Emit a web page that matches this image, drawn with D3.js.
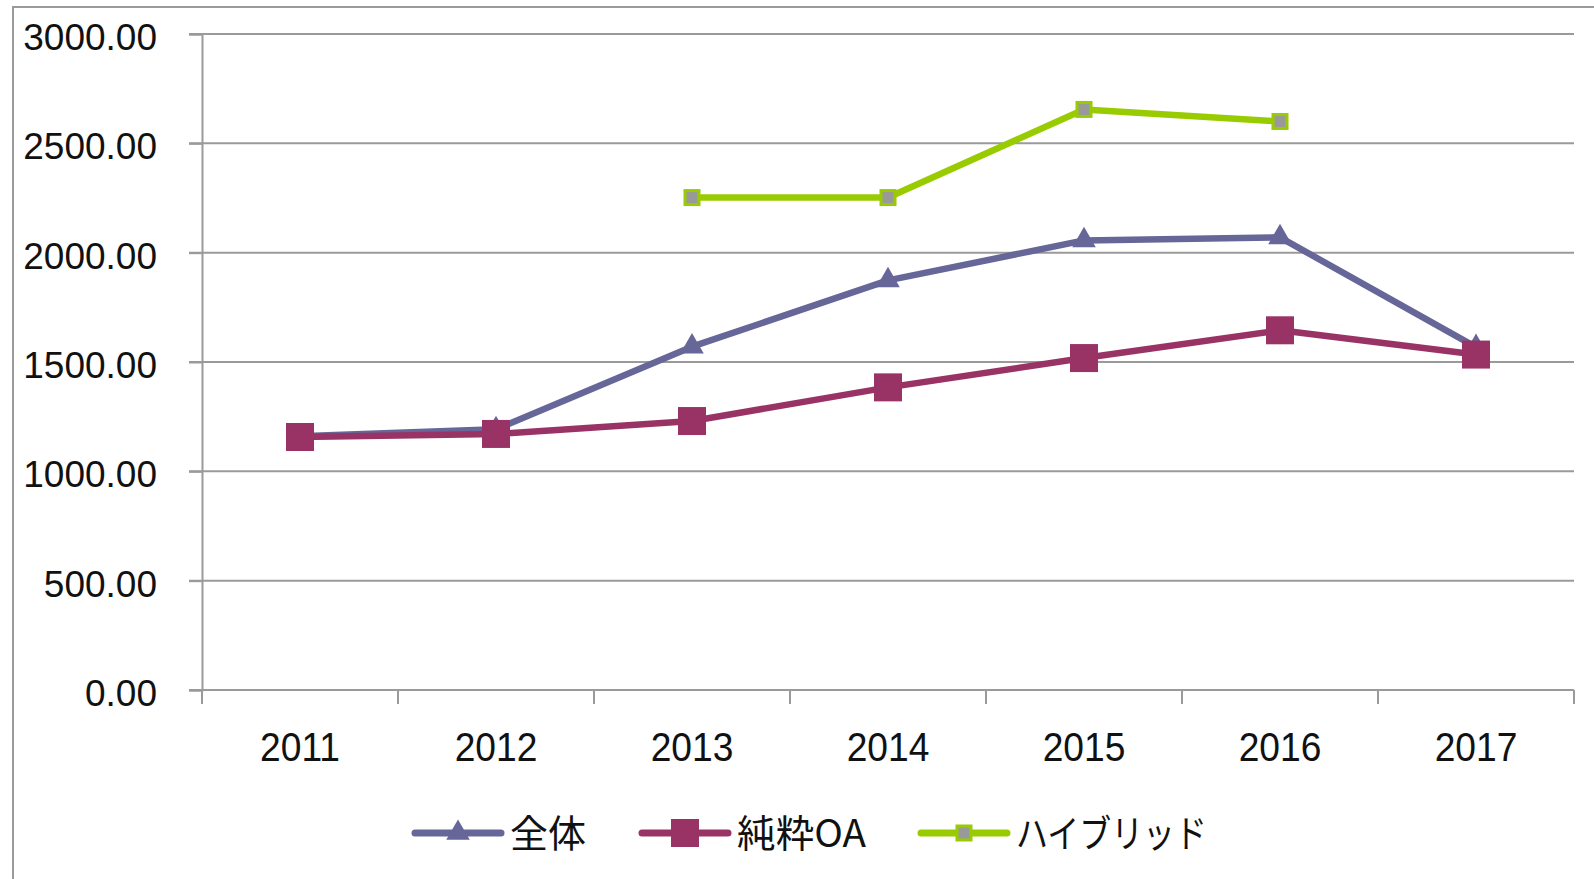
<!DOCTYPE html>
<html>
<head>
<meta charset="utf-8">
<script src="https://cdn.jsdelivr.net/npm/d3@7"></script>
<style>
  body { margin: 0; background: #fff; }
  svg { display: block; }
  text { font-family: "Liberation Sans", Arial, sans-serif; fill: #111; }
  .legend text { font-family: "Noto Sans CJK JP", "Liberation Sans", sans-serif; }
</style>
</head>
<body>
<svg width="1594" height="879"></svg>
<script>
// data
var years = ["2011", "2012", "2013", "2014", "2015", "2016", "2017"];
var zentai = [1160, 1192, 1570, 1873, 2056, 2070, 1568];
var junsuiOA = [1157, 1171, 1230, 1384, 1518, 1645, 1534];
var hybrid = [null, null, 2252, 2252, 2655, 2600, null];
var seriesNames = ["全体", "純粋OA", "ハイブリッド"];
var yTicks = [0, 500, 1000, 1500, 2000, 2500, 3000];

var svg = d3.select("svg");
var width = 1594, height = 879;

var plot = {left: 202, right: 1574, top: 34, bottom: 690};

var x = d3.scaleBand().domain(years).range([plot.left, plot.right]);
var y = d3.scaleLinear().domain([0, 3000]).range([plot.bottom, plot.top]);
var cx = function(d) { return x(d) + x.bandwidth() / 2; };

// outer frame
svg.append("rect")
    .attr("x", 13).attr("y", 7)
    .attr("width", 1700).attr("height", 1000)
    .attr("fill", "none")
    .attr("stroke", "#9a9a9a")
    .attr("stroke-width", 2);

// gridlines
svg.append("g")
    .selectAll("line")
    .data(yTicks)
    .enter().append("line")
        .attr("x1", plot.left - 13)
        .attr("x2", plot.right)
        .attr("y1", function(d) { return y(d); })
        .attr("y2", function(d) { return y(d); })
        .attr("stroke", "#9a9a9a")
        .attr("stroke-width", 2);

// y axis
var yAxis = svg.append("g")
    .attr("transform", "translate(" + plot.left + ",0)")
    .call(d3.axisLeft(y).tickValues(yTicks).tickFormat(d3.format(".2f")).tickSize(13).tickPadding(32));
yAxis.select(".domain").attr("stroke", "#9a9a9a").attr("stroke-width", 2);
yAxis.selectAll(".tick line").attr("stroke", "#9a9a9a").attr("stroke-width", 2);
yAxis.selectAll(".tick text")
    .attr("font-size", 37)
    .attr("font-family", "Liberation Sans, Arial, sans-serif")
    .attr("fill", "#111")
    .attr("dy", "0.42em");

// x axis: labels at band centres, ticks at band boundaries
var xAxis = svg.append("g")
    .attr("transform", "translate(0," + plot.bottom + ")")
    .call(d3.axisBottom(x).tickSize(0).tickPadding(0));
xAxis.select(".domain").remove();
xAxis.selectAll(".tick text")
    .attr("font-size", 40)
    .attr("font-family", "Liberation Sans, Arial, sans-serif")
    .attr("fill", "#111")
    .attr("y", 0)
    .attr("dy", 0)
    .attr("transform", "translate(0,71) scale(0.93,1)");

var bounds = years.map(function(d) { return x(d); }).concat([plot.right]);
svg.append("g")
    .selectAll("line")
    .data(bounds)
    .enter().append("line")
        .attr("x1", function(d) { return d; })
        .attr("x2", function(d) { return d; })
        .attr("y1", plot.bottom)
        .attr("y2", plot.bottom + 14)
        .attr("stroke", "#9a9a9a")
        .attr("stroke-width", 2);

// series
var colors = ["#666699", "#993366", "#99cc00"];
var series = [zentai, junsuiOA, hybrid];

var line = d3.line()
    .defined(function(d) { return d[1] != null; })
    .x(function(d) { return cx(d[0]); })
    .y(function(d) { return y(d[1]); });

var triangle = d3.symbol().type(d3.symbolTriangle).size(240);

function drawMarker(g, i, px, py) {
    if (i === 0) {
        g.append("path")
            .attr("d", triangle())
            .attr("transform", "translate(" + px + "," + py + ")")
            .attr("fill", colors[0]);
    } else if (i === 1) {
        g.append("rect")
            .attr("x", px - 14).attr("y", py - 14)
            .attr("width", 28).attr("height", 28)
            .attr("fill", colors[1]);
    } else {
        g.append("rect")
            .attr("x", px - 7).attr("y", py - 7)
            .attr("width", 14).attr("height", 14)
            .attr("fill", "#999999")
            .attr("stroke", colors[2])
            .attr("stroke-width", 3);
    }
}

series.forEach(function(vals, i) {
    var pts = years.map(function(yr, j) { return [yr, vals[j]]; });
    var g = svg.append("g");
    g.append("path")
        .datum(pts)
        .attr("d", line)
        .attr("fill", "none")
        .attr("stroke", colors[i])
        .attr("stroke-width", 6.5)
        .attr("stroke-linejoin", "round");
    pts.filter(function(d) { return d[1] != null; }).forEach(function(d) {
        drawMarker(g, i, cx(d[0]), y(d[1]));
    });
});

// legend
var legendX = [415, 642, 921];
var legendTextW = [76, 129, 191];
var legend = svg.append("g").attr("class", "legend");
seriesNames.forEach(function(name, i) {
    var lx = legendX[i], ly = 833;
    var g = legend.append("g");
    g.append("line")
        .attr("x1", lx).attr("x2", lx + 86)
        .attr("y1", ly).attr("y2", ly)
        .attr("stroke", colors[i])
        .attr("stroke-width", 7)
        .attr("stroke-linecap", "round");
    drawMarker(g, i, lx + 43, ly);
    g.append("text")
        .attr("x", lx + 95)
        .attr("y", ly)
        .attr("dy", "0.36em")
        .attr("font-size", 38)
        .attr("textLength", legendTextW[i])
        .attr("lengthAdjust", "spacingAndGlyphs")
        .text(name);
});
</script>
</body>
</html>
